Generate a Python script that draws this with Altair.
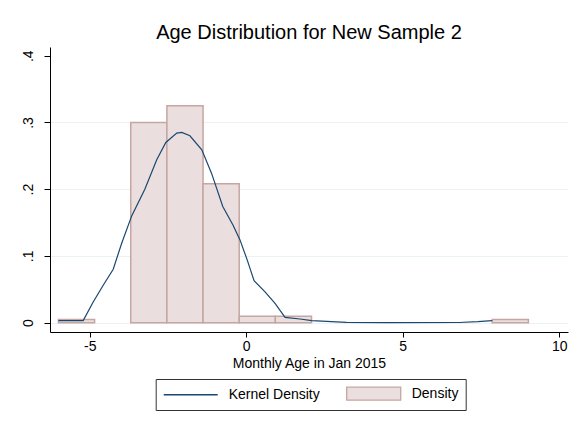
import altair as alt
import pandas as pd

# Histogram (density) bins
bin_left = [-6.0, -3.69, -2.535, -1.38, -0.225, 0.93, 7.86]
bin_right = [-4.845, -2.535, -1.38, -0.225, 0.93, 2.085, 9.015]
density = [0.0046, 0.300, 0.325, 0.208, 0.0095, 0.0095, 0.0046]

# Kernel density curve
kde_x = [-6.0, -5.21, -4.89, -4.57, -4.25, -3.98, -3.66, -3.24, -2.86, -2.57,
         -2.22, -2.06, -1.80, -1.42, -1.11, -0.75, -0.42, -0.20, 0.03, 0.25,
         0.60, 0.92, 1.24, 1.72, 2.09, 3.2, 4.5, 6.8, 7.4, 7.86]
kde_y = [0.003, 0.003, 0.031, 0.056, 0.080, 0.119, 0.160, 0.200, 0.244, 0.270,
         0.284, 0.285, 0.280, 0.259, 0.224, 0.174, 0.146, 0.124, 0.094, 0.063,
         0.046, 0.029, 0.008, 0.0055, 0.003, 0.0003, 0.0, 0.0002, 0.0015, 0.003]

series_names = ["Kernel Density", "Density"]
x_ticks = [-5, 0, 5, 10]
y_ticks = [0, 0.1, 0.2, 0.3, 0.4]

LINE = "#1A476F"
FILL = "#EADFDE"
EDGE = "#C5A6A2"
FONT = "Liberation Sans"

bars = pd.DataFrame({"lo": bin_left, "hi": bin_right, "density": density,
                     "series": "Density"})
kde = pd.DataFrame({"x": kde_x, "y": kde_y})

xscale = alt.Scale(domain=[-6.27, 10.28], nice=False, zero=False)
yscale = alt.Scale(domain=[-0.014, 0.413], nice=False, zero=False)

RECT_PATH = "M-1,-1L7.31,-1L7.31,1L-1,1Z"
LINE_PATH = "M-1,0L7.31,0"
is_bar = "datum.value === 'Density'"

legend = alt.Legend(
    title=None,
    orient="none",
    legendX=105.7,
    legendY=332,
    direction="horizontal",
    strokeColor="#333333",
    fillColor="white",
    padding=7,
    columnPadding=23,
    labelOffset=51,
    symbolSize=169,
    symbolType=alt.ExprRef(expr=f"{is_bar} ? '{RECT_PATH}' : '{LINE_PATH}'"),
    symbolStrokeColor=alt.ExprRef(expr=f"{is_bar} ? '{EDGE}' : '{LINE}'"),
    symbolStrokeWidth=1.3,
    labelFont=FONT,
    labelFontSize=14,
    labelColor="black",
)

color = alt.Color("series:N",
                  scale=alt.Scale(domain=series_names, range=[FILL, FILL]),
                  legend=legend)

xaxis = alt.Axis(values=x_ticks, title="Monthly Age in Jan 2015",
                 labelExpr="'' + datum.value",
                 grid=False, tickSize=5, labelPadding=2, titlePadding=3,
                 labelFontSize=14, titleFontSize=14, titleFontWeight="normal",
                 labelFont=FONT, titleFont=FONT, labelColor="black",
                 titleColor="black", domainColor="black", tickColor="black",
                 labelFlush=False)
yaxis = alt.Axis(values=y_ticks, title=None,
                 labelExpr="datum.value == 0 ? '0' : '.' + round(datum.value * 10)",
                 grid=True, gridColor="#EAF2F3", gridWidth=1.2,
                 gridOpacity={"condition": {"test": "datum.value > 0.35", "value": 0},
                              "value": 1},
                 tickSize=6, labelAngle=270, labelAlign="center",
                 labelBaseline="alphabetic", labelPadding=12,
                 labelFontSize=14, labelFont=FONT, labelColor="black",
                 domainColor="black", tickColor="black", labelFlush=False)

bar_layer = alt.Chart(bars).mark_rect(stroke=EDGE, strokeWidth=1.5).encode(
    x=alt.X("lo:Q", scale=xscale, axis=xaxis),
    x2="hi:Q",
    y=alt.Y("density:Q", scale=yscale, axis=yaxis),
    y2=alt.datum(0),
    color=color,
)

line_layer = alt.Chart(kde).mark_line(color=LINE, strokeWidth=1.2).encode(
    x=alt.X("x:Q", scale=xscale),
    y=alt.Y("y:Q", scale=yscale),
)

chart = alt.layer(bar_layer, line_layer).properties(
    width=518,
    height=285,
    title=alt.TitleParams("Age Distribution for New Sample 2", font=FONT,
                          fontSize=20, fontWeight="normal", color="black",
                          anchor="middle", baseline="alphabetic", offset=8,
                          dy=19.5),
    autosize=alt.AutoSizeParams(type="none"),
    padding={"left": 42, "top": 39, "right": 7, "bottom": 84},
    background="white",
).configure_view(strokeWidth=0)

chart.save("out.html", embed_options={"renderer": "svg", "actions": False})
